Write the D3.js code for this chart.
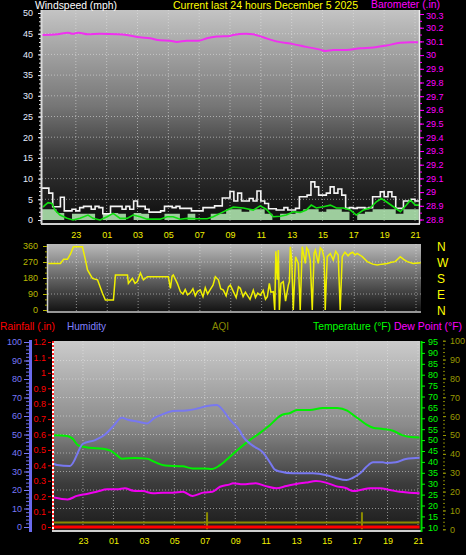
<!DOCTYPE html>
<html><head><meta charset="utf-8">
<script src="https://cdn.jsdelivr.net/npm/d3@7"></script>
<style>
html,body{margin:0;padding:0;background:#000;}
svg{display:block;}
text{font-family:"Liberation Sans",Arial,sans-serif;}
</style></head><body>
<script>
// ---------- DATA ----------
const hourTicks = [2,4,6,8,10,12,14,16,18,20,22,24];
const hourLabels = ["23","01","03","05","07","09","11","13","15","17","19","21"];
const titleText = "Current last 24 hours December 5 2025";

// wind gust (mph), 0.25 h steps starting at h=-0.25 (h=0 is 21:00 previous day)
const gustStart = -0.25, gustStep = 0.25;
const windGust = [7.7,7.7,6.5,3.2,3.2,5.5,2.2,2.2,2.6,2.2,3.0,3.3,3.3,2.6,3.3,3.0,1.5,1.5,3.3,3.3,3.3,2.6,3.3,2.6,4.6,3.3,3.3,2.6,1.9,1.9,1.9,2.2,3.3,3.3,3.0,3.3,2.8,2.8,2.8,2.2,2.2,2.2,3.0,3.0,3.0,3.4,3.4,5.3,5.3,6.9,4.6,6.5,4.6,4.6,5.2,4.6,7.0,4.6,4.0,2.7,2.7,2.4,2.4,3.0,2.4,2.4,2.8,5.6,5.6,6.0,9.2,8.0,6.0,6.0,6.5,8.0,6.5,7.5,6.0,2.8,3.0,2.8,3.0,3.0,2.8,3.0,5.6,5.6,6.8,5.6,6.8,5.6,2.8,2.8,4.6,4.6,5.0,4.6,4.6];
// wind speed (pale), 0.5 h steps starting at h=-0.25
const speedStart = -0.25, speedStep = 0.5;
const windSpeed = [2.6,2.6,1.7,0,1.5,1.5,1.5,0,1.5,1.7,1.5,0,1.7,1.5,0,0,1.5,1.5,0,1.5,0,0,1.5,1.5,2.6,2.6,2.0,2.6,2.6,1.5,0,1.5,1.5,2.0,2.6,2.6,2.0,2.6,2.6,2.0,0,1.5,2.0,2.6,2.6,2.6,1.5,2.6,2.6,2.6];
// average wind (green) [hour, mph]
const windAvg = [[-0.13,3.1],[0,3.6],[0.2,4.2],[0.45,4.0],[0.65,2.4],[0.97,1.2],[1.43,0.4],[1.82,0],[2.27,0.4],[2.79,1.2],[3.12,0.4],[3.57,0],[4.03,0.8],[4.42,1.6],[4.87,0.4],[5.32,0.4],[5.71,1.2],[6.17,0.8],[6.62,0.2],[7.0,0.2],[7.47,0.2],[7.92,0.8],[8.31,0.8],[8.77,0.2],[9.22,0.4],[9.87,0.3],[10.52,0.3],[10.91,0.8],[11.36,1.6],[11.82,2.4],[12.21,3.1],[12.86,2.9],[13.51,2.4],[13.96,3.4],[14.35,2.6],[14.81,0.8],[15.26,0.9],[15.65,1.2],[16.1,2.0],[16.56,1.8],[16.95,2.4],[17.27,3.6],[17.6,2.9],[18.05,3.2],[18.51,3.6],[18.9,2.9],[19.35,2.9],[19.81,2.4],[20.19,1.2],[20.65,2.4],[21.1,2.9],[21.49,4.4],[21.82,5.2],[22.14,4.4],[22.6,3.2],[23.05,2.0],[23.44,3.6],[23.7,4.8],[24.03,3.6],[24.3,3.6]];
// barometer (inHg) [hour, value]
const barometer = [[-0.2,30.147],[0.8,30.152],[1.5,30.164],[1.8,30.155],[2.15,30.164],[2.8,30.152],[3.55,30.155],[4.7,30.152],[5.3,30.147],[6.15,30.13],[6.8,30.123],[7.45,30.108],[8.1,30.105],[8.55,30.096],[9.2,30.105],[9.95,30.105],[10.5,30.123],[11.15,30.135],[12.0,30.14],[12.2,30.147],[13.05,30.155],[13.5,30.152],[14.15,30.13],[15.0,30.1],[16.1,30.08],[16.95,30.06],[17.85,30.04],[18.2,30.03],[18.7,30.037],[19.55,30.037],[20.45,30.05],[21.3,30.055],[22.15,30.07],[23.05,30.09],[23.7,30.093],[24.2,30.093]];
// wind direction (deg) [hour, deg]
const windDir = [[-0.2,262],[0.32,262],[0.97,262],[1.17,285],[1.42,285],[1.62,315],[1.81,356],[2.39,356],[2.59,281],[2.72,225],[3.04,178],[3.37,170],[3.69,94],[3.88,56],[4.4,56],[4.53,197],[5.31,197],[5.37,150],[5.63,178],[5.8,150],[5.95,160],[6.15,208],[6.34,170],[6.6,187],[7.96,187],[8.09,122],[8.2,190],[8.28,197],[8.54,150],[8.74,103],[8.9,90],[9.05,115],[9.2,85],[9.39,98],[9.55,120],[9.7,80],[9.85,105],[10.03,112],[10.2,75],[10.35,125],[10.5,90],[10.68,116],[10.85,140],[11.0,187],[11.2,170],[11.35,120],[11.52,112],[11.7,80],[11.85,130],[11.97,140],[12.17,103],[12.35,70],[12.5,130],[12.62,122],[12.8,75],[12.95,100],[13.07,84],[13.25,60],[13.46,112],[13.6,70],[13.75,95],[13.92,84],[14.1,110],[14.25,60],[14.37,75],[14.5,150],[14.6,100],[14.76,103],[14.85,0],[14.92,330],[15.02,170],[15.08,337],[15.15,0],[15.25,150],[15.4,160],[15.55,50],[15.73,140],[15.8,160],[15.86,356],[15.95,280],[16.05,0],[16.2,300],[16.38,262],[16.5,0],[16.63,356],[16.75,300],[16.83,262],[16.92,350],[17.02,337],[17.15,280],[17.28,0],[17.4,320],[17.48,337],[17.67,262],[17.8,350],[17.93,337],[18.05,290],[18.12,0],[18.25,300],[18.45,318],[18.64,281],[18.8,330],[18.96,309],[19.09,0],[19.22,300],[19.4,325],[19.6,305],[19.74,318],[19.9,325],[20.05,310],[20.19,318],[20.52,300],[20.84,272],[21.2,258],[21.49,253],[21.8,258],[22.14,262],[22.4,268],[22.65,272],[22.98,300],[23.2,285],[23.43,272],[23.82,262],[24.3,266]];
// humidity (%) [hour, value]
const humidity = [[-0.1,35],[0.3,33.5],[1.15,33],[2.0,45],[2.8,47],[3.45,50],[4.0,54.6],[4.55,59],[4.95,58],[5.55,57],[6.2,56],[6.7,59],[7.25,61],[7.9,62.7],[8.8,63],[9.5,64],[10.15,65.4],[10.8,66],[11.1,64],[11.65,58],[12.3,52],[12.5,49],[13.15,44],[13.8,40.5],[14.3,34.6],[14.6,31],[14.95,30],[15.8,29],[17.1,29],[18.0,28],[18.6,26.5],[19.3,25.4],[19.7,26.5],[20.2,29],[20.6,32.4],[21.05,35],[21.7,35],[21.9,34.6],[22.55,35],[23.2,36.8],[23.85,37.3],[24.1,37.5]];
// temperature (°F) [hour, value]
const temperature = [[-0.1,52.2],[0.95,51.9],[1.3,50.8],[1.7,47.5],[2.45,46.5],[3.3,46],[3.8,45.2],[4.15,43.5],[4.55,41.5],[5.4,41.8],[6.2,41.5],[6.7,40],[7.4,38.3],[8.55,38],[9.2,37],[10.0,37],[10.5,36.8],[11.0,38.5],[11.65,42.4],[12.3,46.4],[12.95,50],[13.6,53.2],[14.3,57],[14.75,60],[15.05,61.5],[15.6,62.4],[16.05,63.8],[16.9,63.8],[17.75,64.7],[18.7,64.7],[19.35,63.5],[19.75,61.5],[20.2,59.2],[20.65,57],[21.05,55.7],[21.7,55.1],[22.35,54.3],[22.95,52.3],[23.5,51.4],[24.1,51.2]];
// dew point (°F) [hour, value]
const dewPoint = [[-0.1,24.0],[1.0,22.8],[1.6,24.4],[2.25,25.3],[2.9,26.3],[3.6,27.4],[4.25,27.4],[4.75,27.9],[5.3,26.8],[5.95,26.6],[6.6,25.6],[7.25,25.9],[7.9,25.9],[8.55,26.3],[9.2,24.4],[9.9,25.9],[10.5,26.3],[11.0,28.6],[11.65,29.7],[11.85,30.2],[12.5,29.7],[13.35,30.2],[14.0,28.9],[14.7,27.9],[15.35,28.9],[16.0,29.9],[16.65,30.5],[17.3,31.2],[17.95,30.5],[18.6,28.9],[19.3,27.9],[19.75,26.6],[20.2,27.1],[20.85,27.9],[21.5,27.9],[22.15,27.1],[22.8,26.3],[23.45,25.9],[24.1,25.6]];
// rainfall (in) and AQI
const rainfall = [[-0.1,0],[24.1,0]];
const aqi = [[-0.1,3.6],[10.15,3.6],[10.15,9],[10.15,0],[10.15,3.6],[20.32,3.6],[20.32,9],[20.32,0],[20.32,3.6],[24.1,3.6]];

// ---------- LAYOUT ----------
const W=466,H=555;
const svg=d3.select("body").append("svg").attr("width",W).attr("height",H);
svg.append("rect").attr("width",W).attr("height",H).attr("fill","#000");
const defs=svg.append("defs");
function grad(id,stops){const g=defs.append("linearGradient").attr("id",id).attr("x1",0).attr("y1",0).attr("x2",0).attr("y2",1);stops.forEach(([o,c])=>g.append("stop").attr("offset",o).attr("stop-color",c));}
grad("gTop",[[0,"#c4c4c4"],[0.45,"#767676"],[0.7,"#363636"],[1,"#0c0c0c"]]);
grad("gDir",[[0,"#bababa"],[0.5,"#666"],[1,"#141414"]]);
grad("gBot",[[0,"#cbcbcb"],[0.45,"#8a8a8a"],[0.75,"#3c3c3c"],[1,"#1c1c1c"]]);

const P={top:{x:42,y:10,w:377,h:213},dir:{x:48,y:244,w:373,h:67},bot:{x:54,y:341,w:366,h:189}};
Object.entries(P).forEach(([k,r])=>{
  defs.append("clipPath").attr("id","c"+k).append("rect").attr("x",r.x).attr("y",r.y).attr("width",r.w).attr("height",r.h);
});
svg.append("rect").attr("x",P.top.x).attr("y",P.top.y).attr("width",P.top.w).attr("height",P.top.h).attr("fill","url(#gTop)");
svg.append("rect").attr("x",P.dir.x).attr("y",P.dir.y).attr("width",P.dir.w).attr("height",P.dir.h).attr("fill","url(#gDir)");
svg.append("rect").attr("x",P.bot.x).attr("y",P.bot.y).attr("width",P.bot.w).attr("height",P.bot.h).attr("fill","url(#gBot)");

// scales
const xTop=d3.scaleLinear([0,24],[45,415]);
const xDir=d3.scaleLinear([0,24],[45.5,416]);
const xBot=d3.scaleLinear([0,24],[52.5,418]);
const yWind=d3.scaleLinear([0,50],[220,13]);
const yBaro=d3.scaleLinear([28.8,30.3],[219.5,14]);
const yDir=d3.scaleLinear([0,360],[310,246]);
const yHum=d3.scaleLinear([0,100],[527,342]);
const yRain=d3.scaleLinear([0,1.2],[527,342]);
const yTemp=d3.scaleLinear([10,95],[527.3,342]);
const yAqi=d3.scaleLinear([0,100],[529.3,340.7]);

// grids
function grid(clip,xs,x,ys,y,r){
  const g=svg.append("g").attr("clip-path",`url(#c${clip})`).attr("stroke","#e8e8e8").attr("stroke-opacity",0.55).attr("stroke-dasharray","1,2");
  xs.forEach(v=>g.append("line").attr("x1",x(v)).attr("x2",x(v)).attr("y1",r.y).attr("y2",r.y+r.h));
  ys.forEach(v=>g.append("line").attr("y1",y(v)).attr("y2",y(v)).attr("x1",r.x).attr("x2",r.x+r.w));
}
grid("top",hourTicks,xTop,d3.range(5,50,5),yWind,P.top);
grid("dir",hourTicks,xDir,[90,180,270],yDir,P.dir);
grid("bot",hourTicks,xBot,d3.range(10,100,10),yHum,P.bot);

// ---------- TOP PANEL SERIES ----------
const gT=svg.append("g").attr("clip-path","url(#ctop)");
const speedPts=windSpeed.map((v,i)=>[speedStart+i*speedStep,v]);
gT.append("path").datum(speedPts).attr("fill","#b6eeb6").attr("fill-opacity",0.85)
  .attr("d",d3.area().curve(d3.curveStepAfter).x(d=>xTop(d[0])).y0(yWind(0)).y1(d=>yWind(d[1])));
const gustPts=windGust.map((v,i)=>[gustStart+i*gustStep,v]);
gT.append("path").datum(gustPts).attr("fill","none").attr("stroke","#f4f4f4").attr("stroke-width",1.6)
  .attr("d",d3.line().curve(d3.curveStepAfter).x(d=>xTop(d[0])).y(d=>yWind(d[1])));
gT.append("path").datum(windAvg).attr("fill","none").attr("stroke","#10e010").attr("stroke-width",1.6)
  .attr("d",d3.line().x(d=>xTop(d[0])).y(d=>yWind(d[1])));
gT.append("path").datum(barometer).attr("fill","none").attr("stroke","#f030f0").attr("stroke-width",2)
  .attr("d",d3.line().curve(d3.curveMonotoneX).x(d=>xTop(d[0])).y(d=>yBaro(d[1])));

// ---------- WIND DIRECTION ----------
svg.append("g").attr("clip-path","url(#cdir)").append("path").datum(windDir)
  .attr("fill","none").attr("stroke","#f0f000").attr("stroke-width",1.5)
  .attr("d",d3.line().x(d=>xDir(d[0])).y(d=>yDir(d[1])));

// ---------- BOTTOM PANEL ----------
const gB=svg.append("g").attr("clip-path","url(#cbot)");
gB.append("path").datum(aqi).attr("fill","none").attr("stroke","#8a8a00").attr("stroke-width",2)
  .attr("d",d3.line().x(d=>xBot(d[0])).y(d=>yAqi(d[1])));
gB.append("path").datum(rainfall).attr("fill","none").attr("stroke","#ff0000").attr("stroke-width",3)
  .attr("d",d3.line().x(d=>xBot(d[0])).y(d=>yRain(d[1])));
gB.append("path").datum(dewPoint).attr("fill","none").attr("stroke","#f000f0").attr("stroke-width",2)
  .attr("d",d3.line().curve(d3.curveMonotoneX).x(d=>xBot(d[0])).y(d=>yTemp(d[1])));
gB.append("path").datum(temperature).attr("fill","none").attr("stroke","#00f000").attr("stroke-width",2)
  .attr("d",d3.line().curve(d3.curveMonotoneX).x(d=>xBot(d[0])).y(d=>yTemp(d[1])));
gB.append("path").datum(humidity).attr("fill","none").attr("stroke","#7878f0").attr("stroke-width",2)
  .attr("d",d3.line().curve(d3.curveMonotoneX).x(d=>xBot(d[0])).y(d=>yHum(d[1])));

// ---------- BORDERS ----------
svg.append("line").attr("x1",41.5).attr("x2",41.5).attr("y1",10).attr("y2",224).attr("stroke","#d8d8d8").attr("stroke-width",2);
svg.append("line").attr("x1",41).attr("x2",420).attr("y1",224).attr("y2",224).attr("stroke","#cfcfcf").attr("stroke-width",2);
svg.append("line").attr("x1",419.5).attr("x2",419.5).attr("y1",10).attr("y2",224).attr("stroke","#eeeeee").attr("stroke-width",1.5);
svg.append("line").attr("x1",47.5).attr("x2",47.5).attr("y1",244).attr("y2",312).attr("stroke","#d0d0d0").attr("stroke-width",1.5);
svg.append("line").attr("x1",47).attr("x2",421).attr("y1",312).attr("y2",312).attr("stroke","#c8c8c8").attr("stroke-width",1.5);
svg.append("line").attr("x1",53).attr("x2",53).attr("y1",341).attr("y2",531).attr("stroke","#ffffff").attr("stroke-width",2);
svg.append("line").attr("x1",53).attr("x2",53).attr("y1",341).attr("y2",531).attr("stroke","#ff2020").attr("stroke-width",2).attr("stroke-dasharray","2,2");
svg.append("line").attr("x1",52).attr("x2",421).attr("y1",531).attr("y2",531).attr("stroke","#cfcfcf").attr("stroke-width",2);
svg.append("line").attr("x1",421.5).attr("x2",421.5).attr("y1",341).attr("y2",532).attr("stroke","#00e000").attr("stroke-width",2);
svg.append("rect").attr("x",29).attr("y",340).attr("width",3).attr("height",192).attr("fill","#6a6aee");

// ---------- AXES ----------
function axis(gen,x,y,color,size){
  const g=svg.append("g").attr("transform",`translate(${x},${y})`).call(gen);
  g.select(".domain").remove();
  g.selectAll("line").attr("stroke",color);
  g.selectAll("text").attr("fill",color).style("font-size",(size||9)+"px").style("font-family","'Liberation Sans',Arial,sans-serif");
  return g;
}
const fmt=d3.format("~g");
// top left wind
axis(d3.axisLeft(yWind).tickValues(d3.range(0,51,1)).tickSize(2).tickFormat(""),41,0,"#e8e8e8");
axis(d3.axisLeft(yWind).tickValues(d3.range(0,51,5)).tickSize(3).tickPadding(5).tickFormat(fmt),41,0,"#e4ecff");
// top right baro
axis(d3.axisRight(yBaro).tickValues(d3.range(28.8,30.31,0.05)).tickSize(2).tickFormat(""),420,0,"#ff00ff");
const baroAx=axis(d3.axisRight(yBaro).tickValues(d3.range(288,304,1).map(v=>v/10)).tickSize(4).tickPadding(2).tickFormat(fmt),420,0,"#ff00ff");
baroAx.selectAll("text").filter(d=>d>30.25).attr("dy","0.5em");
// x labels top
axis(d3.axisBottom(xTop).tickValues(hourTicks).tickFormat((d,i)=>hourLabels[i]).tickSize(0).tickPadding(2),0,230,"#f0f000");
// dir axis
axis(d3.axisLeft(yDir).tickValues(d3.range(0,361,30)).tickSize(2).tickFormat(""),47,0,"#a8a800");
axis(d3.axisLeft(yDir).tickValues([0,90,180,270,360]).tickSize(4).tickPadding(5).tickFormat(fmt),47,0,"#b8b800");
const compass=["N","W","S","E","N"];
svg.append("g").selectAll("text").data([360,270,180,90,0]).join("text")
  .attr("x",437).attr("y",d=>yDir(d)+4.5).attr("fill","#ffff00").style("font-size","12px").text((d,i)=>compass[i]);
// bottom x labels
axis(d3.axisBottom(xBot).tickValues(hourTicks).tickFormat((d,i)=>hourLabels[i]).tickSize(0).tickPadding(2),0,536,"#f0f000");
// humidity
axis(d3.axisLeft(yHum).tickValues(d3.range(0,101,2)).tickSize(3).tickFormat(""),29,0,"#7070ee");
axis(d3.axisLeft(yHum).tickValues(d3.range(0,101,10)).tickSize(5).tickPadding(2).tickFormat(fmt),29,0,"#7878f8");
// rain
axis(d3.axisLeft(yRain).tickValues(d3.range(0,13,1).map(v=>v/10)).tickSize(3).tickPadding(2).tickFormat(fmt),51,0,"#ff0000");
// temperature
axis(d3.axisRight(yTemp).tickValues(d3.range(10,96,5)).tickSize(3).tickPadding(3).tickFormat(fmt),422,0,"#00ff00");
// aqi
axis(d3.axisRight(yAqi).tickValues(d3.range(0,101,2)).tickSize(2).tickFormat(""),443,0,"#808000");
axis(d3.axisRight(yAqi).tickValues(d3.range(0,101,10)).tickSize(3).tickPadding(4).tickFormat(fmt),443,0,"#9a9a00");

// ---------- HEADERS ----------
function label(t,x,y,color,len,size){
  svg.append("text").attr("x",x).attr("y",y).attr("fill",color).style("font-size",(size||11)+"px")
    .attr("textLength",len).attr("lengthAdjust","spacingAndGlyphs").text(t);
}
label("Windspeed (mph)",35,9,"#ffffff",82);
label(titleText,173,9,"#ffff00",185);
label("Barometer (.in)",371,8,"#ff00ff",69,10);
label("Rainfall (.in)",0,330,"#ff0000",55);
label("Humidity",67,330,"#8080ff",39);
label("AQI",212,330,"#8a8a00",17,10);
label("Temperature (°F)",313,330,"#00ff00",78);
label("Dew Point (°F)",394,330,"#ff00ff",68);
</script>
</body></html>
